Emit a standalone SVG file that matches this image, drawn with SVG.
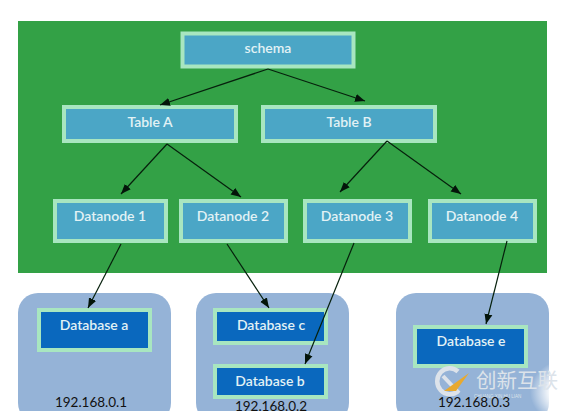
<svg xmlns="http://www.w3.org/2000/svg" width="570" height="411" viewBox="0 0 570 411">
<style>
text{font-family:"Lato","Open Sans",sans-serif;text-anchor:middle}
.bl rect{fill:#4BA6C6;stroke:#A8E6C0;stroke-width:4}
.db rect{fill:#0A68BE;stroke:#A8E6C0;stroke-width:4}
.bl text,.db text{fill:#E2F2F5;font-size:14px;font-weight:600}
.host{fill:#95B3D7}
.ip{fill:#111;font-size:13.500px}
.c line{stroke:#06200c;stroke-width:1.2;marker-end:url(#a)}
.wm{fill:#DCE3EA;font-family:"Noto Sans CJK SC",sans-serif;font-size:20.500px;text-anchor:start}
.wm2{fill:#DCE3EA;font-family:"Liberation Sans",sans-serif;font-size:4.500px;text-anchor:start}
</style>
<defs>
<marker id="a" markerUnits="userSpaceOnUse" markerWidth="11" markerHeight="9" refX="10" refY="4.500" orient="auto"><path d="M0 0.500L10 4.500L0 8.500z" fill="#04150a"/></marker>
<radialGradient id="fade"><stop offset="0" stop-color="#fff"/><stop offset=".55" stop-color="#fff" stop-opacity=".9"/><stop offset="1" stop-color="#fff" stop-opacity="0"/></radialGradient>
</defs>
<rect width="570" height="411" fill="#fff"/>
<rect id="cluster" x="18" y="21" width="529" height="252" fill="#33A146"/>
<g id="schema" class="bl"><rect x="182.500" y="33.500" width="171" height="33"/><text x="268" y="53">schema</text></g>
<g id="table-a" class="bl"><rect x="64" y="107" width="172" height="34"/><text x="150" y="127">Table A</text></g>
<g id="table-b" class="bl"><rect x="263" y="107" width="172" height="34"/><text x="349" y="127">Table B</text></g>
<g id="datanode-1" class="bl"><rect x="55" y="201" width="111" height="40"/><text x="110" y="221">Datanode 1</text></g>
<g id="datanode-2" class="bl"><rect x="181" y="201" width="105" height="40"/><text x="233" y="221">Datanode 2</text></g>
<g id="datanode-3" class="bl"><rect x="305" y="201" width="105" height="40"/><text x="357" y="221">Datanode 3</text></g>
<g id="datanode-4" class="bl"><rect x="430" y="201" width="105" height="40"/><text x="482" y="221">Datanode 4</text></g>
<g id="host-1"><rect class="host" x="18" y="293" width="153" height="130" rx="20"/><text class="ip" x="91" y="407">192.168.0.1</text></g>
<g id="host-2"><rect class="host" x="196" y="293" width="153" height="130" rx="20"/><text class="ip" x="271" y="410.500">192.168.0.2</text></g>
<g id="host-3"><rect class="host" x="396" y="293" width="153" height="130" rx="20"/></g>
<g id="database-a" class="db"><rect x="39" y="310" width="111" height="40"/><text x="94" y="330">Database a</text></g>
<g id="database-c" class="db"><rect x="215" y="310" width="111" height="33"/><text x="271" y="330">Database c</text></g>
<g id="database-b" class="db"><rect x="215" y="366" width="111" height="31"/><text x="270" y="386">Database b</text></g>
<g id="database-e" class="db"><rect x="415" y="327" width="111" height="39"/><text x="471" y="346">Database e</text></g>
<g id="watermark">
<ellipse cx="572" cy="392" rx="42" ry="34" fill="url(#fade)"/>
<path d="M458 371.500A12.500 13 0 1 0 458 391" fill="none" stroke="#DDE3EA" stroke-width="4.500"/>
<path d="M443 376L459 393" fill="none" stroke="#DDE3EA" stroke-width="4"/>
<path d="M444 391L469 373L456 391z" fill="#E8A92E"/>
<text class="wm" x="476" y="388">创新互联</text>
<text class="wm2" x="474" y="397.500">CHUANG XIN HU LIAN</text>
<text class="ip" x="474" y="407">192.168.0.3</text>
</g>
<g id="connectors" class="c">
<line x1="268" y1="69" x2="160" y2="105"/>
<line x1="268" y1="69" x2="365" y2="101"/>
<line x1="167" y1="144" x2="121" y2="194"/>
<line x1="167" y1="144" x2="241" y2="197"/>
<line x1="387" y1="141" x2="340" y2="192"/>
<line x1="387" y1="141" x2="461" y2="194"/>
<line x1="121" y1="244" x2="88" y2="308"/>
<line x1="227" y1="244" x2="269" y2="308"/>
<line x1="354" y1="243" x2="305" y2="364"/>
<line x1="507" y1="241" x2="486" y2="324"/>
</g>
</svg>
